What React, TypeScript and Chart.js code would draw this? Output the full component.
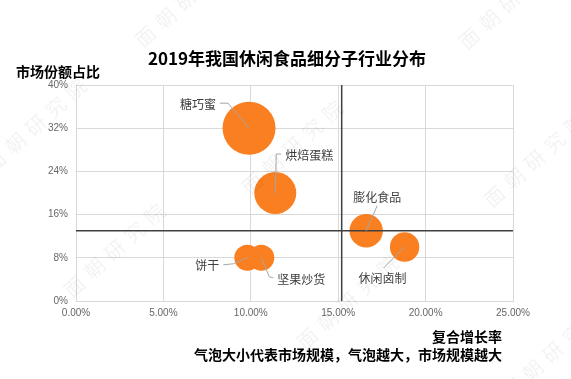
import { useEffect, useRef } from "react";
import { Chart, registerables } from "chart.js";
Chart.register(...registerables);

const categories = ["糖巧蜜", "烘焙蛋糕", "饼干", "坚果炒货", "膨化食品", "休闲卤制"];
const growthRate = [9.9, 11.4, 9.8, 10.6, 16.6, 18.8];
const marketShare = [32, 20, 8, 8, 13, 10];
const bubbleRadius = [26.5, 21, 13, 13, 16.7, 14.7];
const xTickValues = [0, 5, 10, 15, 20, 25];
const yTickValues = [0, 8, 16, 24, 32, 40];
const avgGrowth = 15.2;
const avgShare = 13;

const titleText = "2019年我国休闲食品细分子行业分布";
const yTitle = "市场份额占比";
const xTitle = "复合增长率";
const noteText = "气泡大小代表市场规模，气泡越大，市场规模越大";
const watermark = "面朝研究院";

// leader-line layout: elbow offset, end offset, text offset, text align
const labelLayout = [
  { elbow: [-21, -25], end: [-29, -25], text: [-33, -24], align: "right" },
  { elbow: [1, -39], end: [6, -39], text: [10, -38], align: "left" },
  { elbow: [-14, 6], end: [-24, 7], text: [-28, 8], align: "right" },
  { elbow: [8, 19], end: [12, 20], text: [16, 22], align: "left" },
  { elbow: [11, -25], end: [11, -25], text: [11, -33], align: "center" },
  { elbow: [-21, 21], end: [-21, 21], text: [-22, 31], align: "center" },
];

const watermarkSpots = [
  [138, 43], [462, 45], [-12, 168], [245, 190], [487, 203], [67, 293], [300, 345], [505, 395],
];

const CJK = '"Noto Sans CJK SC", "Noto Sans", sans-serif';

export default function App() {
  const ref = useRef<HTMLCanvasElement | null>(null);
  useEffect(() => {
    if (!ref.current) return;
    const overlay = {
      id: "overlay",
      afterDatasetsDraw(chart: any) {
        const ctx = chart.ctx;
        const xs = chart.scales.x;
        const ys = chart.scales.y;
        const area = chart.chartArea;
        ctx.save();
        ctx.strokeStyle = "#404040";
        ctx.lineWidth = 1.5;
        const qx = xs.getPixelForValue(avgGrowth);
        const qy = ys.getPixelForValue(avgShare);
        ctx.beginPath();
        ctx.moveTo(qx, area.top);
        ctx.lineTo(qx, area.bottom);
        ctx.moveTo(area.left, qy);
        ctx.lineTo(area.right, qy);
        ctx.stroke();
        ctx.font = "12px " + CJK;
        ctx.fillStyle = "#404040";
        ctx.textBaseline = "middle";
        categories.forEach((name, i) => {
          const cx = xs.getPixelForValue(growthRate[i]);
          const cy = ys.getPixelForValue(marketShare[i]);
          const L = labelLayout[i];
          ctx.strokeStyle = "#a6a6a6";
          ctx.lineWidth = 1;
          ctx.beginPath();
          ctx.moveTo(cx, cy);
          ctx.lineTo(cx + L.elbow[0], cy + L.elbow[1]);
          ctx.lineTo(cx + L.end[0], cy + L.end[1]);
          ctx.stroke();
          ctx.textAlign = L.align as CanvasTextAlign;
          ctx.fillText(name, cx + L.text[0], cy + L.text[1]);
        });
        ctx.restore();
      },
      afterDraw(chart: any) {
        const ctx = chart.ctx;
        const area = chart.chartArea;
        ctx.save();
        ctx.fillStyle = "#000";
        ctx.textBaseline = "middle";
        ctx.font = "bold 17px " + CJK;
        ctx.textAlign = "center";
        ctx.fillText(titleText, 287, 59);
        ctx.font = "bold 14px " + CJK;
        ctx.textAlign = "left";
        ctx.fillText(yTitle, 16, 72);
        ctx.textAlign = "right";
        ctx.fillText(xTitle, area.right - 11, 337);
        ctx.fillText(noteText, area.right - 11, 355);
        ctx.fillStyle = "rgba(0,0,0,0.05)";
        ctx.font = "20px " + CJK;
        ctx.textAlign = "left";
        watermarkSpots.forEach(([wx, wy]) => {
          ctx.save();
          ctx.translate(wx, wy);
          ctx.rotate((-42 * Math.PI) / 180);
          [...watermark].forEach((ch, k) => ctx.fillText(ch, k * 27, 0));
          ctx.restore();
        });
        ctx.restore();
      },
    };
    const chart = new Chart(ref.current, {
      type: "bubble",
      data: {
        datasets: [
          {
            data: categories.map((_, i) => ({ x: growthRate[i], y: marketShare[i], r: bubbleRadius[i] })),
            backgroundColor: "#FA7F20",
            borderColor: "#FA7F20",
            borderWidth: 0,
          },
        ],
      },
      options: {
        responsive: false,
        animation: false,
        layout: { padding: { left: 36, right: 58, top: 85, bottom: 48 } },
        plugins: { legend: { display: false }, tooltip: { enabled: false }, title: { display: false } },
        scales: {
          x: {
            type: "linear",
            min: 0,
            max: 25,
            afterFit: (s: any) => { s.height = 30; },
            afterBuildTicks: (s: any) => { s.ticks = xTickValues.map((v) => ({ value: v })); },
            grid: { color: "#d9d9d9", drawTicks: false, lineWidth: 1 },
            border: { color: "#d9d9d9" },
            ticks: {
              padding: 6,
              color: "#666",
              font: { family: '"Liberation Sans", Arial, sans-serif', size: 10 },
              callback: (v: any) => Number(v).toFixed(2) + "%",
              maxRotation: 0,
            },
          },
          y: {
            type: "linear",
            min: 0,
            max: 40,
            afterFit: (s: any) => { s.width = 40; },
            afterBuildTicks: (s: any) => { s.ticks = yTickValues.map((v) => ({ value: v })); },
            grid: { color: "#d9d9d9", drawTicks: false, lineWidth: 1 },
            border: { color: "#d9d9d9" },
            ticks: {
              padding: 8,
              color: "#666",
              font: { family: '"Liberation Sans", Arial, sans-serif', size: 10 },
              callback: (v: any) => v + "%",
            },
          },
        },
      },
      plugins: [overlay],
    });
    return () => chart.destroy();
  }, []);
  return (
    <div style={{ position: "absolute", left: 0, top: 0, width: 571, height: 379, background: "#fff" }}>
      <canvas ref={ref} width={571} height={379} />
    </div>
  );
}
